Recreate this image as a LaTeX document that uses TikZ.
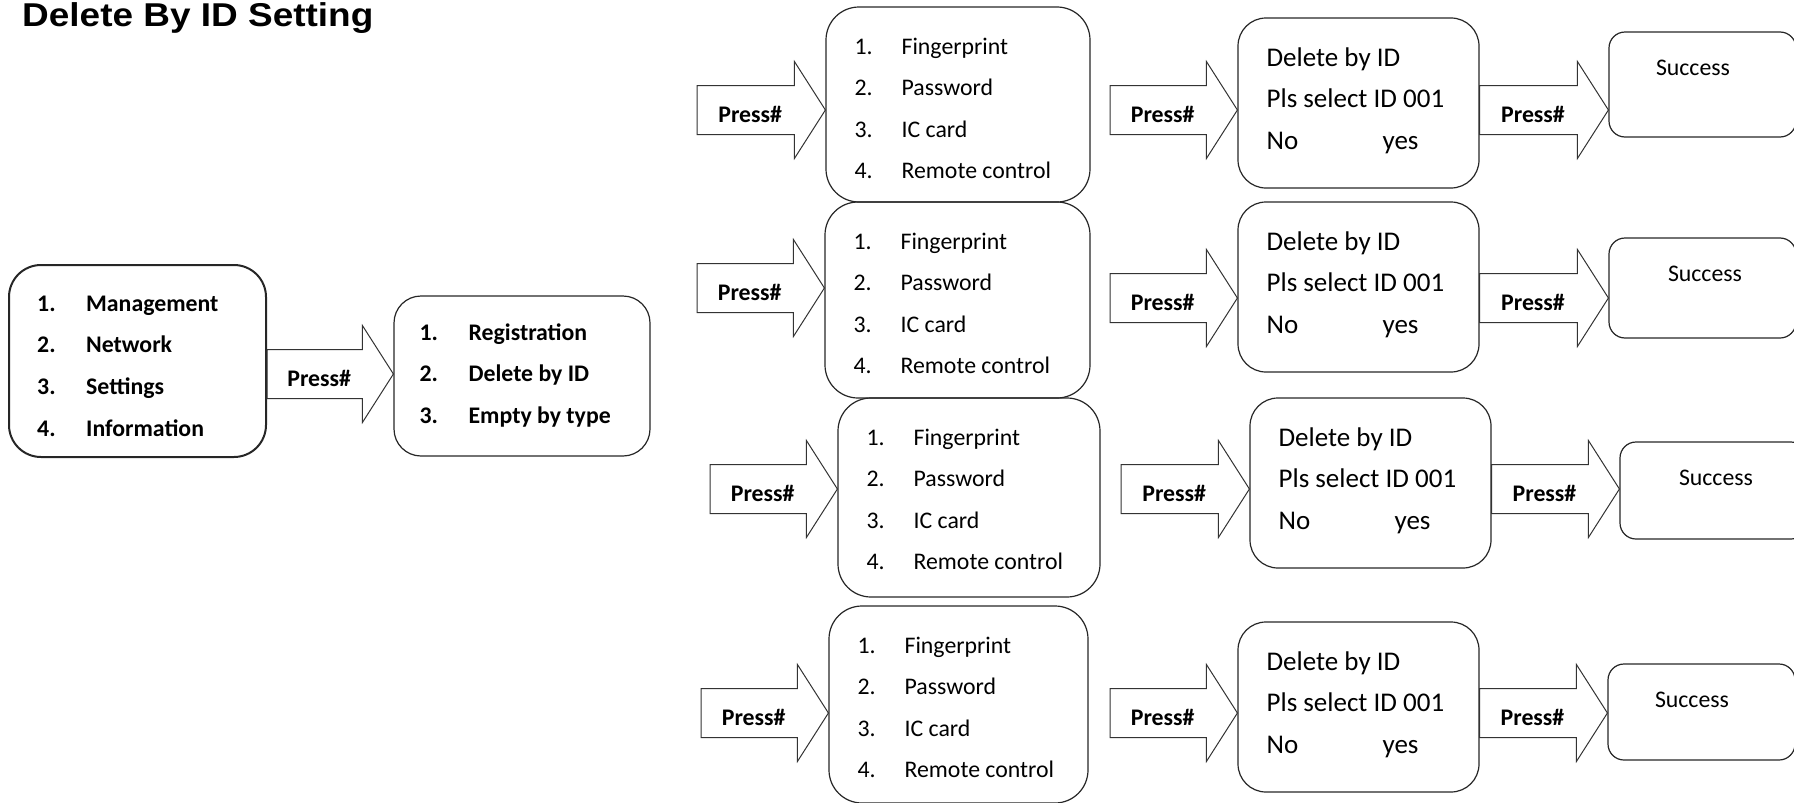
\documentclass[tikz,border=0pt]{standalone}
\usepackage{fontspec}
\setmainfont{Carlito}
\newfontfamily\titlefont[FakeStretch=1.12]{Liberation Sans}
\usetikzlibrary{calc}

% block arrow with the Press# label: name, tail, tip
\newcommand{\pressarrow}[3]{%
  \draw[blockarrow] ($(#2)+(0,-24.5)$) -- ($(#3)+(-31,-24.5)$) -- ($(#3)+(-31,-48.5)$) -- (#3)
    -- ($(#3)+(-31,48.5)$) -- ($(#3)+(-31,24.5)$) -- ($(#2)+(0,24.5)$) -- cycle;
  \node[presslabel] (#1) at ($(#2)!0.5!(#3)+(-11,4)$) {Press\#};}

\begin{document}
\begin{tikzpicture}[x=1pt, y=-1pt,
  menubox/.style={draw=black!85, line width=2pt, rounded corners=32, inner sep=0pt},
  listbox/.style={draw=black!85, line width=1.2pt, inner sep=0pt},
  itemtext/.style={anchor=base west, inner sep=0pt, font=\fontsize{23.8}{28}\selectfont},
  bolditem/.style={itemtext, font=\fontsize{23.8}{28}\selectfont\bfseries},
  screentext/.style={anchor=base west, inner sep=0pt, font=\fontsize{27}{32}\selectfont},
  presslabel/.style={inner sep=0pt, font=\fontsize{23.8}{28}\selectfont\bfseries},
  blockarrow/.style={draw=black!80, line width=1pt, line join=miter}]
  \useasboundingbox (0,0) rectangle (1794,803);
  \clip (0,0) rectangle (1794,803);

  \node[anchor=base west, inner sep=0pt, font=\titlefont\bfseries\fontsize{33}{40}\selectfont] (title) at (22,27) {Delete By ID Setting};

  % main menu and delete menu
  \node[menubox, minimum width=257, minimum height=192] (mm) at (137.5,361) {};
  \foreach \t [count=\i] in {Management, Network, Settings, Information}
    \node[bolditem] (mm\i) at ($(mm.north west)+(29,{5.5+41.7*\i})$) {\makebox[49pt][l]{\i.}\t};
  \node[listbox, rounded corners=27, minimum width=256, minimum height=160] (sm) at (522,376) {};
  \foreach \t [count=\i] in {Registration, Delete by ID, Empty by type}
    \node[bolditem] (sm\i) at ($(sm.north west)+(26,{3.5+41.5*\i})$) {\makebox[49pt][l]{\i.}\t};

  % type lists
  \foreach \r/\bx/\by/\bw/\bh in {1/958/104.5/264/195, 2/957.5/300/265/196, 3/969/497.5/262/199, 4/958.5/704.5/259/197}{
    \node[listbox, rounded corners=33, minimum width=\bw, minimum height=\bh] (b\r) at (\bx,\by) {};
    \foreach \t [count=\i] in {Fingerprint, Password, IC card, Remote control}
      \node[itemtext] (b\r-\i) at ($(b\r.north west)+(29,{6.5+41.5*\i})$) {\makebox[47pt][l]{\i.}\t};
  }

  % delete screens
  \foreach \r/\dx/\dy in {1/1358.5/103, 2/1358.5/287, 3/1370.5/483, 4/1358.5/707}{
    \node[listbox, rounded corners=28, minimum width=241, minimum height=170] (d\r) at (\dx,\dy) {};
    \node[screentext] (d\r-1) at ($(d\r.north west)+(29,49)$) {Delete by ID};
    \node[screentext] (d\r-2) at ($(d\r.north west)+(29,90)$) {Pls select ID 001};
    \node[screentext] (d\r-3) at ($(d\r.north west)+(29,132)$) {\makebox[116pt][l]{No}yes};
  }

  % success screens
  \foreach \r/\fx/\fy/\fh/\sx in {1/1702.5/84.5/105/1693, 2/1702.5/288/100/1705, 3/1713.5/490.5/97/1716, 4/1701.5/712/96/1692}{
    \node[listbox, rounded corners=16, minimum width=187, minimum height=\fh] (f\r) at (\fx,\fy) {};
    \node[itemtext, anchor=base] (f\r-t) at (\sx,{\fy-\fh/2+43}) {Success};
  }

  % arrows
  \coordinate (p0) at (0,374);
  \pressarrow{pr0}{mm.east |- p0}{sm.west |- p0}
  \coordinate (a1) at (697,110);
  \coordinate (c1) at (1110,110);
  \coordinate (a2) at (697,288);
  \coordinate (c2) at (1110,298);
  \coordinate (a3) at (710,489);
  \coordinate (c3) at (1121,489);
  \coordinate (a4) at (701,713);
  \coordinate (c4) at (1110,713);
  \pressarrow{pa1}{a1}{b1.west |- a1}
  \pressarrow{pc1}{c1}{d1.west |- c1}
  \pressarrow{pe1}{d1.east |- c1}{f1.west |- c1}
  \pressarrow{pa2}{a2}{b2.west |- a2}
  \pressarrow{pc2}{c2}{d2.west |- c2}
  \pressarrow{pe2}{d2.east |- c2}{f2.west |- c2}
  \pressarrow{pa3}{a3}{b3.west |- a3}
  \pressarrow{pc3}{c3}{d3.west |- c3}
  \pressarrow{pe3}{d3.east |- c3}{f3.west |- c3}
  \pressarrow{pa4}{a4}{b4.west |- a4}
  \pressarrow{pc4}{c4}{d4.west |- c4}
  \pressarrow{pe4}{d4.east |- c4}{f4.west |- c4}
\end{tikzpicture}
\end{document}
